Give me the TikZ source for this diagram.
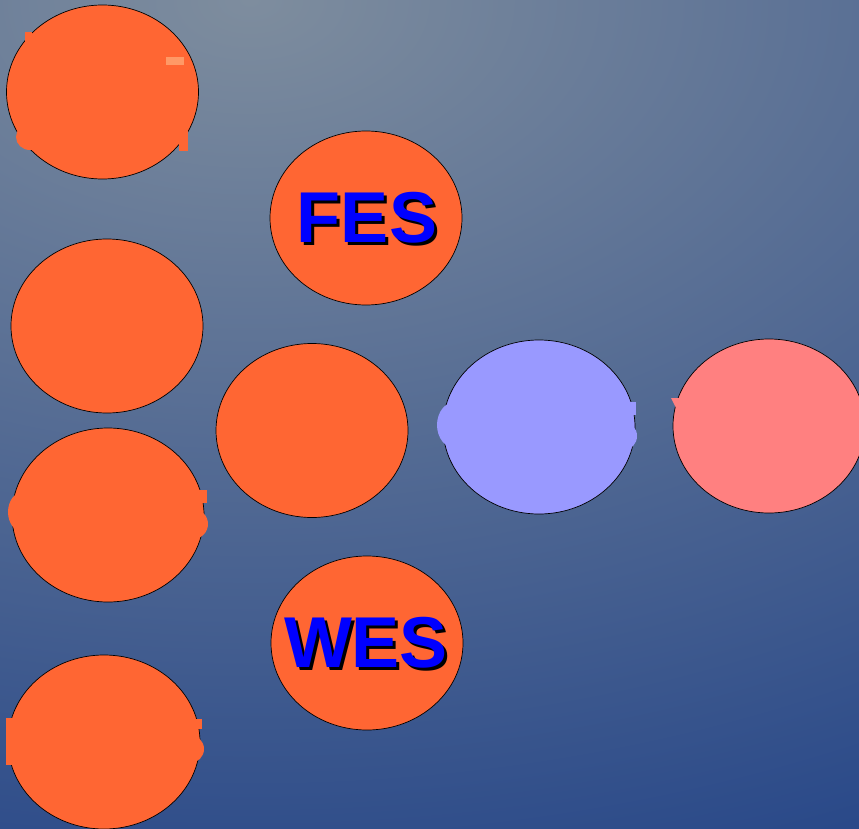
\documentclass[tikz,border=0pt]{standalone}
\usepackage{fontspec}
\setmainfont{Liberation Sans}
\usetikzlibrary{shapes.geometric}
\definecolor{bglight}{RGB}{126,141,158}
\definecolor{bgdark}{RGB}{38,70,136}
\definecolor{ballorange}{RGB}{255,102,51}
\definecolor{ballblue}{RGB}{153,153,255}
\definecolor{ballpink}{RGB}{255,128,128}
\definecolor{dashorange}{RGB}{255,153,102}
% blue letters with a black drop shadow
\newcommand{\shadowtext}[1]{\rlap{\kern3pt\raisebox{-3pt}{\color{black}#1}}#1}
\tikzset{
  ball/.style={ellipse, draw=black, line width=0.7pt, minimum width=192pt, minimum height=174pt, inner sep=0pt},
  balltext/.style={font=\fontsize{72}{72}\selectfont\bfseries, text=blue, inner sep=0pt}
}

\begin{document}
\begin{tikzpicture}[x=1pt,y=-1pt]
        \useasboundingbox (0,0) rectangle (859,829);
        \begin{scope}
          \clip (0,0) rectangle (859,829);
          \shade[inner color=bglight, outer color=bgdark] (250,0) ellipse (1500pt and 950pt);
        \end{scope}

        % left column
        \node[ball, fill=ballorange] (lefta) at (102.5,92) {};
        \node[ball, fill=ballorange] (leftb) at (107,326) {};
        \node[ball, fill=ballorange] (leftc) at (108,515) {};
        \node[ball, fill=ballorange] (leftd) at (104,742) {};
        % middle column
        \node[ball, fill=ballorange] (fes) at (366,218) {};
        \node[ball, fill=ballorange] (hub) at (312,430.5) {};
        \node[ball, fill=ballorange] (wes) at (367,643) {};
        % right row
        \node[ball, fill=ballblue] (blueball) at (539,427) {};
        \node[ball, fill=ballpink] (pinkball) at (769,426) {};

        % bits of words that stick out of the balls
        \fill[ballorange] (25,32) rectangle (32,45);
        \fill[dashorange] (166,57) rectangle (184,65);
        \fill[ballorange] (30,137) ellipse (14 and 13);
        \fill[ballorange] (179,130) rectangle (188,151);

        \fill[ballorange] (25,512) ellipse (17 and 21);
        \fill[ballorange] (195,490) rectangle (207,503);
        \fill[ballorange] (193,524) ellipse (15 and 15);

        \fill[ballorange] (6,718) rectangle (20,765);
        \fill[ballorange] (190,719) rectangle (202,729);
        \fill[ballorange] (190,749) ellipse (14 and 14);

        \fill[ballblue] (455,425) ellipse (18 and 23);
        \fill[ballblue] (625,402) rectangle (636,415);
        \fill[ballblue] (624,436) ellipse (13 and 14);

        \fill[ballpink] (671,398) -- (682,398) -- (678,412) -- cycle;

        % labels
        \node[balltext] (festext) at ([shift={(1,1)}]fes) {\shadowtext{FES}};
        \node[balltext] (westext) at ([shift={(-1,1)}]wes) {\shadowtext{WES}};
\end{tikzpicture}
\end{document}
